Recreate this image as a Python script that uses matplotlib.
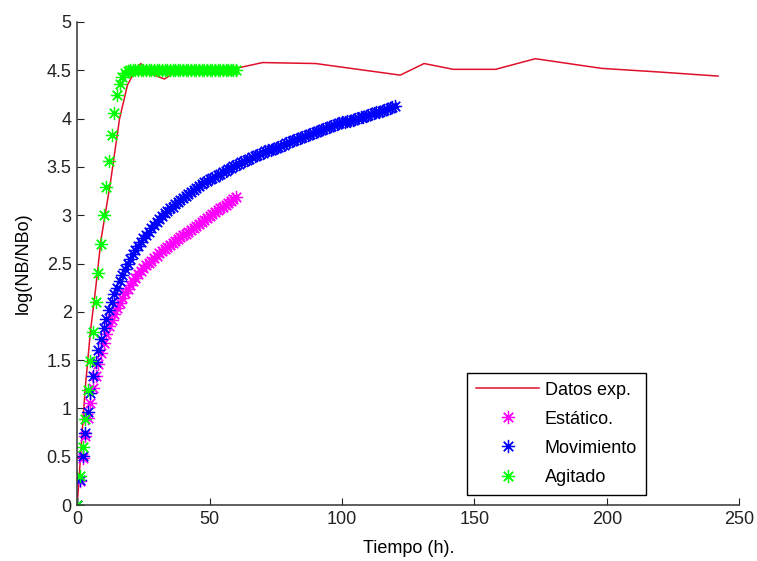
import numpy as np
import matplotlib
matplotlib.use('Agg')
import matplotlib.pyplot as plt

# experimental data
t_exp = [0, 1.5, 3, 5, 7, 9, 12.5, 16, 19, 21, 24, 28, 33, 38, 60, 70, 90,
         122, 131, 142, 158, 173, 198, 221, 242]
y_exp = [0, 0.6, 1.2, 1.8, 2.25, 2.75, 3.33, 4.0, 4.35, 4.45, 4.57, 4.46, 4.41,
         4.5, 4.52, 4.58, 4.57, 4.45, 4.57, 4.51, 4.51, 4.62, 4.52, 4.48, 4.44]

# Estatico (0..60 h)
y_est = [0, 0.25, 0.49, 0.71, 0.90, 1.06, 1.21, 1.34, 1.46, 1.57,
         1.68, 1.77, 1.85, 1.92, 1.98, 2.04, 2.09, 2.14, 2.19, 2.24,
         2.28, 2.32, 2.35, 2.39, 2.42, 2.45, 2.48, 2.51, 2.53, 2.56,
         2.58, 2.61, 2.63, 2.65, 2.67, 2.69, 2.71, 2.73, 2.75, 2.77,
         2.79, 2.81, 2.83, 2.85, 2.87, 2.89, 2.91, 2.93, 2.95, 2.97,
         2.99, 3.01, 3.03, 3.05, 3.07, 3.09, 3.11, 3.13, 3.15, 3.17, 3.19]

# Movimiento (0..120 h)
y_mov = [0, 0.26, 0.51, 0.75, 0.96, 1.16, 1.34, 1.48, 1.60, 1.72,
         1.83, 1.93, 2.02, 2.10, 2.18, 2.25, 2.32, 2.38, 2.44, 2.50,
         2.55, 2.60, 2.64, 2.68, 2.72, 2.76, 2.80, 2.83, 2.87, 2.90,
         2.93, 2.96, 2.99, 3.02, 3.04, 3.07, 3.09, 3.12, 3.14, 3.16,
         3.18, 3.20, 3.22, 3.24, 3.26, 3.28, 3.30, 3.32, 3.34, 3.35,
         3.37, 3.39, 3.40, 3.42, 3.43, 3.45, 3.46, 3.48, 3.49, 3.51,
         3.52, 3.53, 3.55, 3.56, 3.57, 3.58, 3.60, 3.61, 3.62, 3.63,
         3.64, 3.66, 3.67, 3.68, 3.69, 3.70, 3.71, 3.72, 3.73, 3.75,
         3.76, 3.77, 3.78, 3.79, 3.80, 3.81, 3.82, 3.83, 3.84, 3.85,
         3.86, 3.87, 3.88, 3.89, 3.90, 3.91, 3.92, 3.93, 3.94, 3.95,
         3.96, 3.96, 3.97, 3.98, 3.99, 4.00, 4.01, 4.02, 4.02, 4.03,
         4.04, 4.05, 4.06, 4.07, 4.07, 4.08, 4.09, 4.10, 4.11, 4.12, 4.13]

# Agitado (0..60 h)
y_agi = [0, 0.30, 0.60, 0.89, 1.19, 1.49, 1.79, 2.10, 2.40, 2.70,
         3.00, 3.29, 3.56, 3.83, 4.06, 4.24, 4.36, 4.43, 4.47, 4.49] + [4.50] * 41

t_est = np.arange(len(y_est))
t_mov = np.arange(len(y_mov))
t_agi = np.arange(len(y_agi))

x_ticks = [0, 50, 100, 150, 200, 250]
y_ticks = [0, 0.5, 1, 1.5, 2, 2.5, 3, 3.5, 4, 4.5, 5]

plt.rcParams['font.family'] = ['Liberation Sans', 'DejaVu Sans']
fs = 13

fig = plt.figure(figsize=(7.57, 5.61), dpi=100)
ax = fig.add_axes([0.102, 0.0998, 0.8745, 0.861])

ast = (8, 2, 0)
ax.plot(t_exp, y_exp, color='#e0102a', lw=1.1, label='Datos exp.')
ax.plot(t_est, y_est, ls='none', marker=ast, ms=9.5, mew=0.9, color='#ff00ff', label='Estático.')
ax.plot(t_mov, y_mov, ls='none', marker=ast, ms=9.5, mew=0.9, color='#0000ff', label='Movimiento')
ax.plot(t_agi, y_agi, ls='none', marker=ast, ms=9.5, mew=0.9, color='#00ff00', label='Agitado')

ax.set_xlim(0, 250)
ax.set_ylim(0, 5)
ax.set_xticks(x_ticks)
ax.set_yticks(y_ticks)
ax.set_yticklabels(['%g' % v for v in y_ticks])
ax.tick_params(direction='in', length=5, labelsize=fs, colors='#222222', pad=4)
ax.spines['top'].set_visible(False)
ax.spines['right'].set_visible(False)
for s in ['left', 'bottom']:
    ax.spines[s].set_color('#333333')
    ax.spines[s].set_linewidth(1.1)

ax.set_xlabel('Tiempo (h).', fontsize=fs, labelpad=9)
ax.set_ylabel('log(NB/NBo)', fontsize=fs, labelpad=11)

leg = ax.legend(loc='lower left', bbox_to_anchor=(0.589, 0.021), fontsize=fs,
                frameon=True, fancybox=False, edgecolor='black', framealpha=1,
                handlelength=3.5, handletextpad=0.3, labelspacing=0.67,
                borderpad=0.5, borderaxespad=0, numpoints=1)
leg.get_frame().set_linewidth(1.0)

fig.savefig('out.png', dpi=100)
